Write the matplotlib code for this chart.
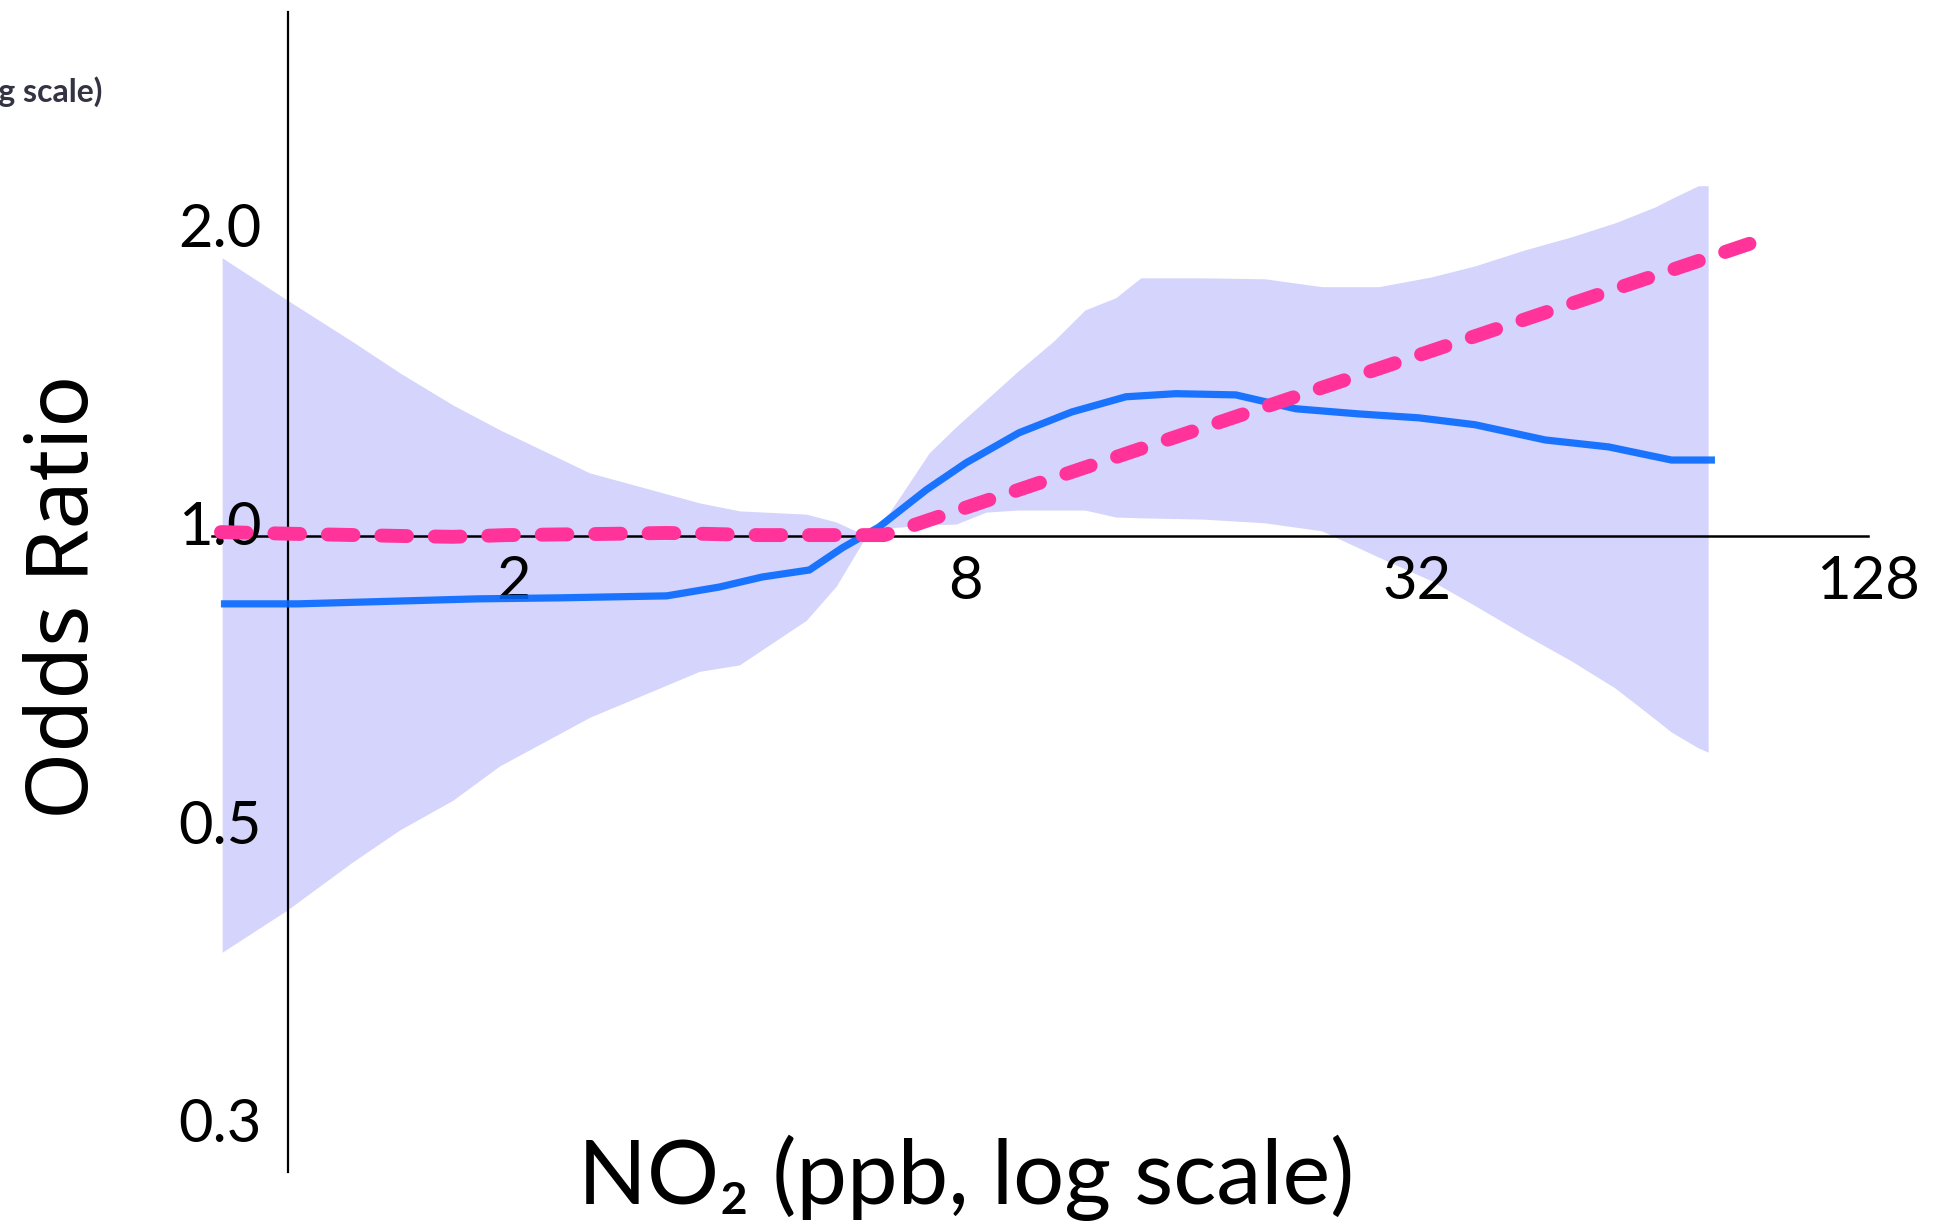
import numpy as np
import matplotlib
matplotlib.use("Agg")
import matplotlib.pyplot as plt
from matplotlib.transforms import ScaledTranslation

# NO2 (ppb) where the confidence band was read
band_x = [0.817, 0.997, 1.221, 1.410, 1.659, 1.916, 2.525, 3.538, 4.00, 4.912, 5.386,
          5.905, 6.337, 7.164, 7.783, 8.532, 9.383, 10.51, 11.56, 12.71, 13.72, 16.60,
          20.08, 23.92, 28.48, 33.50, 38.34, 44.70, 51.47, 58.92, 66.62, 69.96, 76.00, 78.35]
band_hi = [1.909, 1.731, 1.570, 1.461, 1.356, 1.280, 1.158, 1.080, 1.060, 1.052, 1.033,
           1.000, 1.055, 1.213, 1.289, 1.372, 1.464, 1.574, 1.691, 1.740, 1.822, 1.822,
           1.818, 1.785, 1.785, 1.826, 1.874, 1.945, 2.004, 2.071, 2.149, 2.190, 2.257, 2.257]
band_lo = [0.380, 0.419, 0.469, 0.505, 0.541, 0.586, 0.656, 0.730, 0.741, 0.822, 0.890,
           1.000, 1.019, 1.026, 1.028, 1.057, 1.062, 1.062, 1.062, 1.045, 1.043, 1.040,
           1.031, 1.012, 0.952, 0.901, 0.850, 0.794, 0.748, 0.702, 0.653, 0.634, 0.611, 0.605]

# smooth (spline) estimate
spline_x = [0.814, 1.031, 1.791, 2.30, 3.20, 3.76, 4.29, 4.96, 5.49, 6.14, 7.10, 8.02,
            9.44, 11.10, 13.11, 15.28, 18.37, 22.08, 26.8, 32.2, 38.3, 47.5, 57.7, 70.0, 80.0]
spline_or = [0.854, 0.854, 0.864, 0.866, 0.870, 0.888, 0.909, 0.924, 0.973, 1.021, 1.113,
             1.185, 1.271, 1.334, 1.382, 1.392, 1.388, 1.344, 1.328, 1.316, 1.295, 1.250,
             1.230, 1.193, 1.193]

# threshold (hockey stick) model
thr_x = [0.814, 1.015, 1.410, 1.659, 1.957, 2.710, 3.198, 4.25, 6.24, 89.1]
thr_or = [1.009, 1.005, 1.000, 0.998, 1.002, 1.005, 1.007, 1.002, 1.002, 1.973]

xticks = [2, 8, 32, 128]
xticklabels = ["2", "8", "32", "128"]
yticks = [0.25, 0.5, 1, 2]
yticklabels = ["0.3", "0.5", "1.0", "2.0"]

W, H = 1946, 1229
fig = plt.figure(figsize=(W / 100, H / 100), dpi=100)
ax = fig.add_axes([212 / W, 1 - 1172 / H, (1868 - 212) / W, (1172 - 12) / H])

ax.fill_between(band_x, band_lo, band_hi, color="#d4d4fc", lw=0, zorder=1)
ax.plot(spline_x, spline_or, color="#0066ff", lw=5.2, alpha=0.88, zorder=3,
        solid_capstyle="butt", solid_joinstyle="miter")
ax.plot(thr_x, thr_or, color="#ff3399", lw=10, dashes=(1.85, 2.0),
        dash_capstyle="round", zorder=4)

ax.set_xscale("log", base=2)
ax.set_yscale("log", base=2)
ax.set_xlim(0.792, 128)
ax.set_ylim(0.228, 3.38)

for s in ["top", "right"]:
    ax.spines[s].set_visible(False)
ax.spines["left"].set_position(("data", 1))
ax.spines["bottom"].set_position(("data", 1))
ax.spines["left"].set_linewidth(1.6)
ax.spines["bottom"].set_linewidth(1.8)

ax.set_xticks(xticks)
ax.set_xticklabels(xticklabels)
ax.set_yticks(yticks)
ax.set_yticklabels(yticklabels)
ax.minorticks_off()
ax.tick_params(axis="both", length=0, labelsize=43)
ax.tick_params(axis="x", pad=14)
ax.tick_params(axis="y", pad=19)
for lab in ax.get_xticklabels() + ax.get_yticklabels():
    lab.set_fontfamily("Lato")
for lab in ax.get_yticklabels():
    lab.set_transform(lab.get_transform() + ScaledTranslation(0, 9 / 72, fig.dpi_scale_trans))

ax.set_xlabel("NO\u2082 (ppb, log scale)", fontsize=65, family=["Lato", "DejaVu Sans"],
              va="baseline")
ax.xaxis.set_label_coords((966 - 212) / 1656, (1172 - 1204) / 1160)
ax.set_ylabel("Odds Ratio", fontsize=62, family="Noto Sans", va="center")
ax.yaxis.set_label_coords((66 - 212) / 1656, (1172 - 597) / 1160)

# piece of the slide title left over at the top-left corner
fig.text(102 / W, 1 - 102 / H, "NO\u2082 (ppb, log scale)", ha="right", va="baseline",
         fontsize=23, fontweight="bold", color="#333344", family=["Lato", "DejaVu Sans"])

fig.savefig("out.png", dpi=100)
